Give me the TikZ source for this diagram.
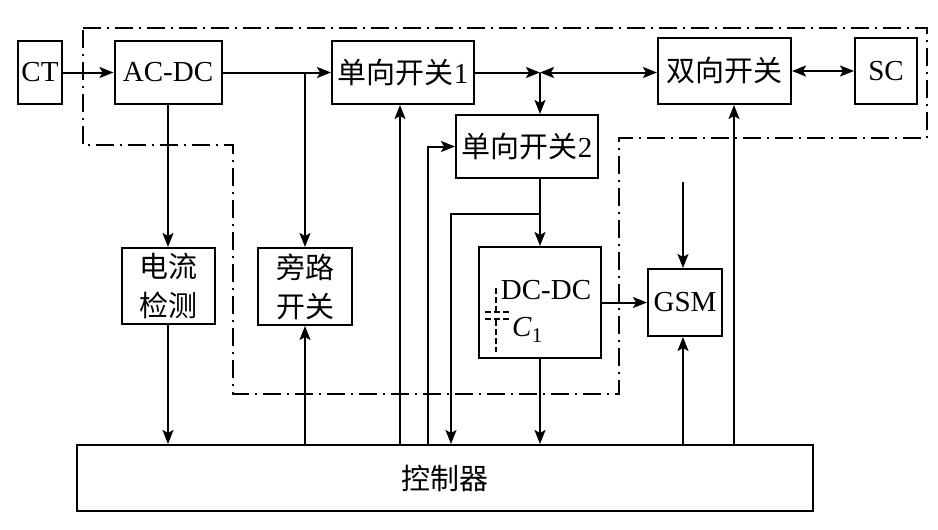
\documentclass[tikz,border=0pt]{standalone}
\usepackage{fontspec}
\setmainfont{Liberation Serif}
\newfontfamily\cjk{Noto Sans CJK SC}
\usetikzlibrary{arrows.meta}
\begin{document}
\begin{tikzpicture}[x=1pt,y=-1pt,
  box/.style={draw, line width=2pt, inner sep=0pt, align=center,
    font=\fontsize{29}{39}\selectfont},
  conn/.style={line width=2pt, -{Stealth[length=14pt,width=11pt,inset=3pt]}},
  biconn/.style={line width=2pt, {Stealth[length=14pt,width=11pt,inset=3pt]}-{Stealth[length=14pt,width=11pt,inset=3pt]}},
  boundary/.style={line width=2pt, dash pattern=on 18pt off 6pt on 2pt off 6pt},
  capline/.style={line width=1.4pt, dash pattern=on 6pt off 3pt}]
\useasboundingbox (0,0) rectangle (938,530);
% boxes
\node[box, minimum width=44pt, minimum height=63pt] (ct) at (40,72.5) {CT};
\node[box, minimum width=107pt, minimum height=63pt] (acdc) at (168,72.5) {AC-DC};
\node[box, minimum width=142pt, minimum height=63pt] (s1) at (403,72.5) {{\cjk 单向开关}1};
\node[box, minimum width=142pt, minimum height=63pt] (s2) at (527,146.5) {{\cjk 单向开关}2};
\node[box, minimum width=133pt, minimum height=66pt] (bi) at (724.5,71) {\cjk 双向开关};
\node[box, minimum width=62pt, minimum height=66pt] (sc) at (886,71) {SC};
\node[box, minimum width=93pt, minimum height=76pt] (det) at (168,286) {\cjk 电流\\\cjk 检测};
\node[box, minimum width=94pt, minimum height=77pt] (byp) at (305,286.5) {\cjk 旁路\\\cjk 开关};
\node[box, minimum width=122pt, minimum height=111pt] (dcdc) at (540,302.5) {};
\node[font=\fontsize{29}{39}\selectfont, inner sep=0pt] (dcdct) at (546,290) {DC-DC};
\node[box, minimum width=74pt, minimum height=67pt] (gsm) at (685,302.5) {GSM};
\node[box, minimum width=736pt, minimum height=66pt] (ctrl) at (445,478) {\cjk 控制器};
% capacitor
\draw[capline] (496,288) -- (496,311);
\draw[capline] (496,320) -- (496,352);
\draw[capline] (485,312) -- (509,312);
\draw[capline] (485,319) -- (509,319);
\node[font=\fontsize{29}{29}\selectfont, inner sep=0pt, anchor=west] (c1) at (512,330) {\textit{C}\raisebox{-6pt}{\fontsize{21}{21}\selectfont 1}};
% helper coordinates
\coordinate (J) at (540,72.5);
\coordinate (b) at (305,72.5);
\coordinate (br) at (540,214);
\coordinate (u1x) at (400,0);
\coordinate (u2x) at (428,0);
\coordinate (u3x) at (451,0);
\coordinate (u4x) at (734,0);
\coordinate (gin) at (683,182);
% connectors
\draw[conn] (ct) -- (acdc);
\draw[conn] (acdc) -- (s1);
\draw[conn] (b) -- (byp.north);
\draw[conn] (acdc.south) -- (det.north);
\draw[conn] (det.south) -- (det.south |- ctrl.north);
\draw[conn] (byp.south |- ctrl.north) -- (byp.south);
\draw[conn] (u1x |- ctrl.north) -- (u1x |- s1.south);
\draw[conn] (u2x |- ctrl.north) |- (s2.west);
\draw[conn] (s1.east) -- (J);
\draw[biconn] (J) -- (J -| bi.west);
\draw[conn] (J) -- (J |- s2.north);
\draw[conn] (J |- s2.south) -- (J |- dcdc.north);
\draw[conn] (br) -| (u3x |- ctrl.north);
\draw[conn] (dcdc.south) -- (dcdc.south |- ctrl.north);
\draw[conn] (dcdc.east) -- (dcdc.east -| gsm.west);
\draw[conn] (gin) -- (gin |- gsm.north);
\draw[conn] (gin |- ctrl.north) -- (gin |- gsm.south);
\draw[conn] (u4x |- ctrl.north) -- (u4x |- bi.south);
\draw[biconn] (bi.east) -- (sc.west);
% dash-dot boundary
\draw[boundary] (83,28) -- (927,28) -- (927,138) -- (619,138) -- (619,394)
  -- (233,394) -- (233,145) -- (83,145) -- cycle;
\end{tikzpicture}
\end{document}
